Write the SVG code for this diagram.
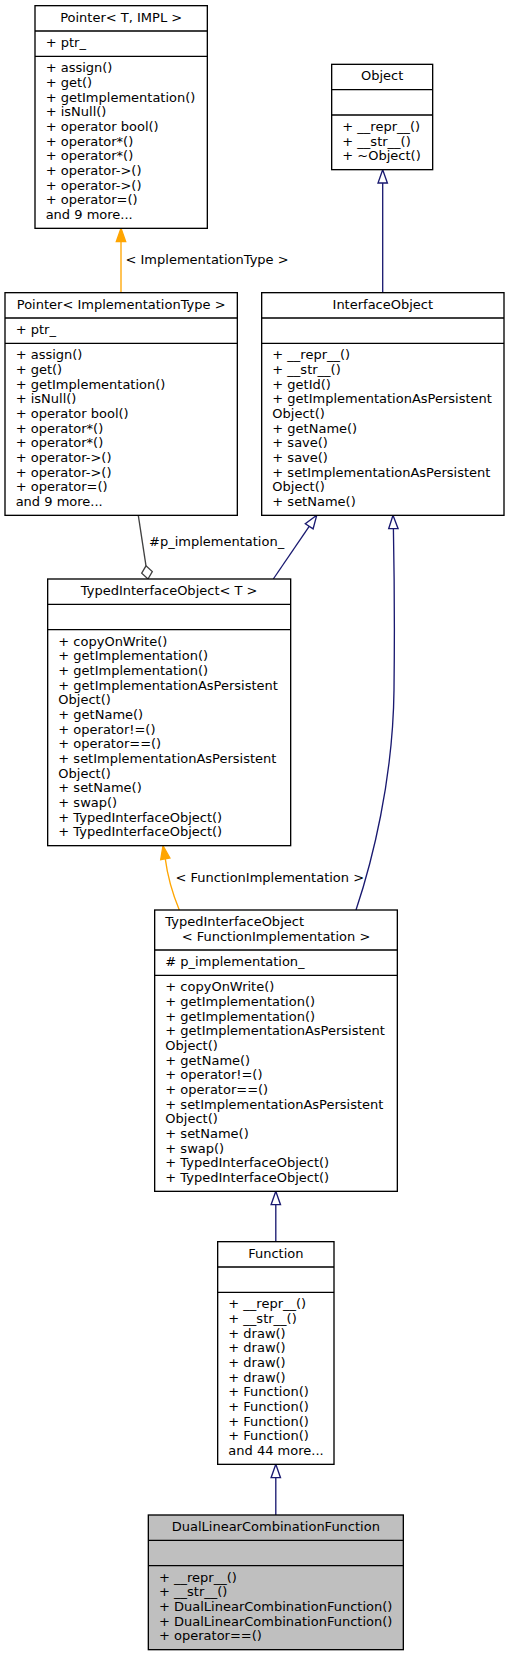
<svg xmlns="http://www.w3.org/2000/svg" width="509" height="1656" viewBox="0 0 509 1656">
<style>
.box{fill:#ffffff;stroke:#000000;stroke-width:1.33}
.boxg{fill:#bfbfbf;stroke:#000000;stroke-width:1.33}
.sep{stroke:#000000;stroke-width:1.33;fill:none}
text{font-family:"DejaVu Sans","Liberation Sans",sans-serif;font-size:13px;fill:#000000}
.c{text-anchor:middle}
.inh{stroke:#191970;stroke-width:1.33;fill:none}
.inhh{stroke:#191970;stroke-width:1.33;fill:#ffffff}
.tpl{stroke:#ffa500;stroke-width:1.33;fill:none}
.tplh{stroke:#ffa500;stroke-width:1.33;fill:#ffa500}
.use{stroke:#404040;stroke-width:1.33;fill:none}
.useh{stroke:#404040;stroke-width:1.33;fill:#ffffff}
</style>
<rect width="509" height="1656" fill="#ffffff"/>
<g id="connectors">
  <path class="inh" d="M382.7,292.7 L382.7,183"/>
  <polygon class="inhh" points="382.7,169.7 378,183 387.4,183"/>
  <path class="tpl" d="M121,292.7 L121,241.7"/>
  <polygon class="tplh" points="121,228.3 116.3,241.7 125.7,241.7"/>
  <text x="125.5" y="263.5">&lt; ImplementationType &gt;</text>
  <path class="use" d="M138.3,515.3 L146,565.8"/>
  <polygon class="useh" points="148,579 152.3,571.6 146,565.8 141.7,573.2"/>
  <text x="149" y="546">#p_implementation_</text>
  <path class="inh" d="M273.3,579 L309.2,526.3"/>
  <polygon class="inhh" points="316.7,515.3 305.3,523.7 313.1,528.9"/>
  <path class="inh" d="M356,910 C372,862 393,780 394,690 C395,610 394,560 393.4,528.7"/>
  <polygon class="inhh" points="393,515.3 388.7,528.7 398.1,528.7"/>
  <path class="tpl" d="M179.3,910 C174,897 168,880 165.3,858.8"/>
  <polygon class="tplh" points="163,845.7 160.7,859.6 169.9,858"/>
  <text x="175.5" y="881.5">&lt; FunctionImplementation &gt;</text>
  <path class="inh" d="M275.8,1241.7 L275.8,1204.7"/>
  <polygon class="inhh" points="275.8,1191.3 271.1,1204.7 280.5,1204.7"/>
  <path class="inh" d="M275.8,1515 L275.8,1477.7"/>
  <polygon class="inhh" points="275.8,1464.3 271.1,1477.7 280.5,1477.7"/>
</g>
<g id="node-pointer-t-impl">
  <rect class="box" x="35" y="5.67" width="172.33" height="222.67"/>
  <path class="sep" d="M35,31 H207.33 M35,56.33 H207.33"/>
  <text class="c" x="121.17" y="21.67">Pointer&lt; T, IMPL &gt;</text>
  <text x="45.67" y="47">+ ptr_</text>
  <text x="45.67" y="72.33">+ assign()</text>
  <text x="45.67" y="87">+ get()</text>
  <text x="45.67" y="101.67">+ getImplementation()</text>
  <text x="45.67" y="116.33">+ isNull()</text>
  <text x="45.67" y="131">+ operator bool()</text>
  <text x="45.67" y="145.67">+ operator*()</text>
  <text x="45.67" y="160.33">+ operator*()</text>
  <text x="45.67" y="175">+ operator-&gt;()</text>
  <text x="45.67" y="189.67">+ operator-&gt;()</text>
  <text x="45.67" y="204.33">+ operator=()</text>
  <text x="45.67" y="219">and 9 more...</text>
</g>
<g id="node-object">
  <rect class="box" x="331.67" y="64.33" width="101" height="105.33"/>
  <path class="sep" d="M331.67,89.67 H432.67 M331.67,115 H432.67"/>
  <text class="c" x="382.17" y="80.33">Object</text>
  <text x="342.33" y="131">+ __repr__()</text>
  <text x="342.33" y="145.67">+ __str__()</text>
  <text x="342.33" y="160.33">+ ~Object()</text>
</g>
<g id="node-pointer-impltype">
  <rect class="box" x="5" y="292.67" width="232.33" height="222.67"/>
  <path class="sep" d="M5,318 H237.33 M5,343.33 H237.33"/>
  <text class="c" x="121.17" y="308.67">Pointer&lt; ImplementationType &gt;</text>
  <text x="15.67" y="334">+ ptr_</text>
  <text x="15.67" y="359.33">+ assign()</text>
  <text x="15.67" y="374">+ get()</text>
  <text x="15.67" y="388.67">+ getImplementation()</text>
  <text x="15.67" y="403.33">+ isNull()</text>
  <text x="15.67" y="418">+ operator bool()</text>
  <text x="15.67" y="432.67">+ operator*()</text>
  <text x="15.67" y="447.33">+ operator*()</text>
  <text x="15.67" y="462">+ operator-&gt;()</text>
  <text x="15.67" y="476.67">+ operator-&gt;()</text>
  <text x="15.67" y="491.33">+ operator=()</text>
  <text x="15.67" y="506">and 9 more...</text>
</g>
<g id="node-interfaceobject">
  <rect class="box" x="261.67" y="292.67" width="242.33" height="222.67"/>
  <path class="sep" d="M261.67,318 H504 M261.67,343.33 H504"/>
  <text class="c" x="382.83" y="308.67">InterfaceObject</text>
  <text x="272.33" y="359.33">+ __repr__()</text>
  <text x="272.33" y="374">+ __str__()</text>
  <text x="272.33" y="388.67">+ getId()</text>
  <text x="272.33" y="403.33">+ getImplementationAsPersistent</text>
  <text x="272.33" y="418">Object()</text>
  <text x="272.33" y="432.67">+ getName()</text>
  <text x="272.33" y="447.33">+ save()</text>
  <text x="272.33" y="462">+ save()</text>
  <text x="272.33" y="476.67">+ setImplementationAsPersistent</text>
  <text x="272.33" y="491.33">Object()</text>
  <text x="272.33" y="506">+ setName()</text>
</g>
<g id="node-typedinterfaceobject-t">
  <rect class="box" x="47.67" y="579" width="243" height="266.67"/>
  <path class="sep" d="M47.67,604.33 H290.67 M47.67,629.67 H290.67"/>
  <text class="c" x="169.17" y="595">TypedInterfaceObject&lt; T &gt;</text>
  <text x="58.33" y="645.67">+ copyOnWrite()</text>
  <text x="58.33" y="660.33">+ getImplementation()</text>
  <text x="58.33" y="675">+ getImplementation()</text>
  <text x="58.33" y="689.67">+ getImplementationAsPersistent</text>
  <text x="58.33" y="704.33">Object()</text>
  <text x="58.33" y="719">+ getName()</text>
  <text x="58.33" y="733.67">+ operator!=()</text>
  <text x="58.33" y="748.33">+ operator==()</text>
  <text x="58.33" y="763">+ setImplementationAsPersistent</text>
  <text x="58.33" y="777.67">Object()</text>
  <text x="58.33" y="792.33">+ setName()</text>
  <text x="58.33" y="807">+ swap()</text>
  <text x="58.33" y="821.67">+ TypedInterfaceObject()</text>
  <text x="58.33" y="836.33">+ TypedInterfaceObject()</text>
</g>
<g id="node-typedinterfaceobject-fi">
  <rect class="box" x="154.67" y="910" width="242.67" height="281.33"/>
  <path class="sep" d="M154.67,950 H397.33 M154.67,975.33 H397.33"/>
  <text x="165.33" y="926">TypedInterfaceObject</text>
  <text class="c" x="276" y="940.67">&lt; FunctionImplementation &gt;</text>
  <text x="165.33" y="966"># p_implementation_</text>
  <text x="165.33" y="991.33">+ copyOnWrite()</text>
  <text x="165.33" y="1006">+ getImplementation()</text>
  <text x="165.33" y="1020.67">+ getImplementation()</text>
  <text x="165.33" y="1035.33">+ getImplementationAsPersistent</text>
  <text x="165.33" y="1050">Object()</text>
  <text x="165.33" y="1064.67">+ getName()</text>
  <text x="165.33" y="1079.33">+ operator!=()</text>
  <text x="165.33" y="1094">+ operator==()</text>
  <text x="165.33" y="1108.67">+ setImplementationAsPersistent</text>
  <text x="165.33" y="1123.33">Object()</text>
  <text x="165.33" y="1138">+ setName()</text>
  <text x="165.33" y="1152.67">+ swap()</text>
  <text x="165.33" y="1167.33">+ TypedInterfaceObject()</text>
  <text x="165.33" y="1182">+ TypedInterfaceObject()</text>
</g>
<g id="node-function">
  <rect class="box" x="217.67" y="1241.67" width="116.33" height="222.67"/>
  <path class="sep" d="M217.67,1267 H334 M217.67,1292.33 H334"/>
  <text class="c" x="275.83" y="1257.67">Function</text>
  <text x="228.33" y="1308.33">+ __repr__()</text>
  <text x="228.33" y="1323">+ __str__()</text>
  <text x="228.33" y="1337.67">+ draw()</text>
  <text x="228.33" y="1352.33">+ draw()</text>
  <text x="228.33" y="1367">+ draw()</text>
  <text x="228.33" y="1381.67">+ draw()</text>
  <text x="228.33" y="1396.33">+ Function()</text>
  <text x="228.33" y="1411">+ Function()</text>
  <text x="228.33" y="1425.67">+ Function()</text>
  <text x="228.33" y="1440.33">+ Function()</text>
  <text x="228.33" y="1455">and 44 more...</text>
</g>
<g id="node-duallinearcombinationfunction">
  <rect class="boxg" x="148.33" y="1515" width="255" height="134.67"/>
  <path class="sep" d="M148.33,1540.33 H403.33 M148.33,1565.67 H403.33"/>
  <text class="c" x="275.83" y="1531">DualLinearCombinationFunction</text>
  <text x="159" y="1581.67">+ __repr__()</text>
  <text x="159" y="1596.33">+ __str__()</text>
  <text x="159" y="1611">+ DualLinearCombinationFunction()</text>
  <text x="159" y="1625.67">+ DualLinearCombinationFunction()</text>
  <text x="159" y="1640.33">+ operator==()</text>
</g>
</svg>
